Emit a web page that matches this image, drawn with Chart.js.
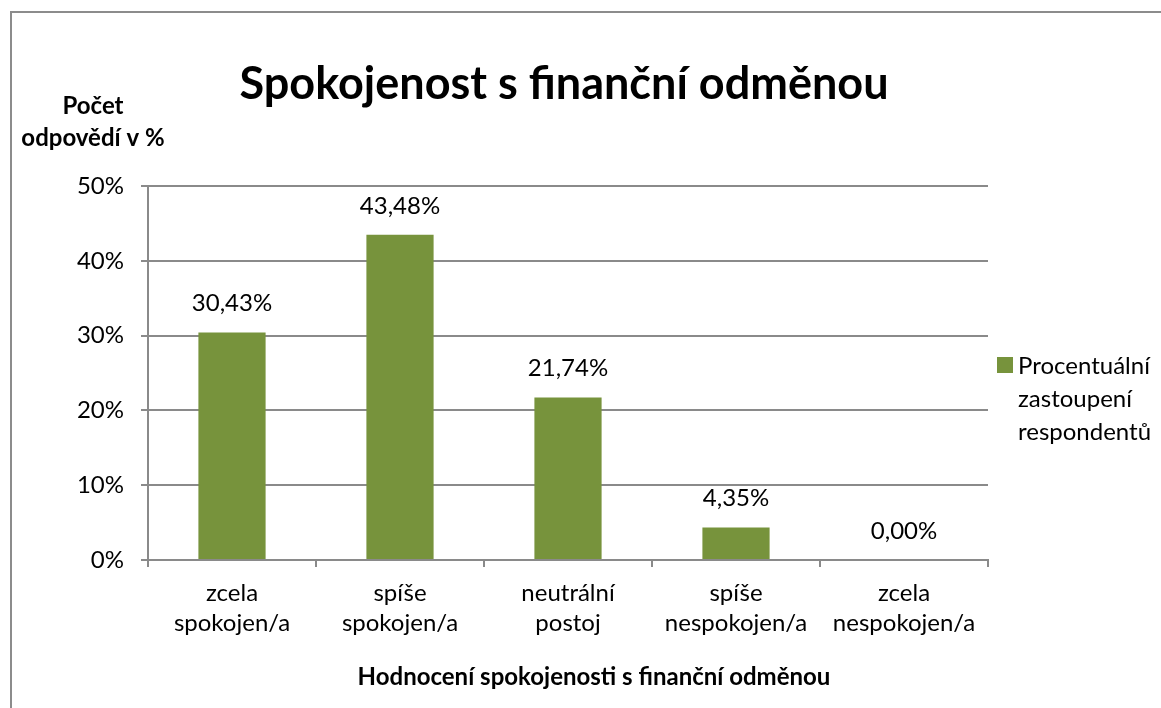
<!DOCTYPE html>
<html>
<head>
<meta charset="utf-8">
<script src="https://cdn.jsdelivr.net/npm/chart.js@4.4.1/dist/chart.umd.min.js"></script>
<style>
  html, body { margin: 0; padding: 0; background: #fff; overflow: hidden; }
  #wrap { position: relative; width: 1161px; height: 708px; }
  #frame { position: absolute; left: 10px; top: 11px; width: 1200px; height: 800px; border-left: 2px solid #8c8c8c; border-top: 2px solid #8c8c8c; box-sizing: border-box; pointer-events: none; }
  canvas { position: absolute; left: 0; top: 0; }
</style>
</head>
<body>
<div id="wrap">
  <canvas id="c" width="1161" height="708"></canvas>
  <div id="frame"></div>
</div>
<script>
const categories = [
  ['zcela', 'spokojen/a'],
  ['spíše', 'spokojen/a'],
  ['neutrální', 'postoj'],
  ['spíše', 'nespokojen/a'],
  ['zcela', 'nespokojen/a']
];
const values = [30.43, 43.48, 21.74, 4.35, 0.00];
const yTicks = [0, 10, 20, 30, 40, 50];
const seriesName = ['Procentuální', 'zastoupení', 'respondentů'];
const chartTitle = 'Spokojenost s finanční odměnou';
const yTitle = ['Počet', 'odpovědí v %'];
const xTitle = 'Hodnocení spokojenosti s finanční odměnou';

const FONT = 'Lato, "Open Sans", sans-serif';
const BAR = '#77933C';
const GRID = '#8a8a8a';

const textPlugin = {
  id: 'texts',
  afterDraw(chart) {
    const ctx = chart.ctx;
    ctx.save();
    ctx.fillStyle = '#000';
    ctx.textBaseline = 'middle';
    // title
    ctx.font = 'bold 45px ' + FONT;
    ctx.textAlign = 'center';
    ctx.fillText(chartTitle, 564, 84);
    // y title
    ctx.font = 'bold 24px ' + FONT;
    ctx.fillText(yTitle[0], 93, 106);
    ctx.fillText(yTitle[1], 93, 138);
    // x title
    ctx.fillText(xTitle, 594, 677);
    // data labels
    ctx.font = '24px ' + FONT;
    const meta = chart.getDatasetMeta(0);
    meta.data.forEach((bar, i) => {
      const v = values[i];
      const txt = v.toFixed(2).replace('.', ',') + '%';
      ctx.fillText(txt, bar.x, bar.y - 29);
    });
    // legend
    ctx.fillStyle = BAR;
    ctx.fillRect(997, 357, 16, 16);
    ctx.fillStyle = '#000';
    ctx.textAlign = 'left';
    ctx.font = '24px ' + FONT;
    seriesName.forEach((s, i) => ctx.fillText(s, 1018, 366 + i * 33));
    ctx.restore();
  }
};

new Chart(document.getElementById('c'), {
  type: 'bar',
  data: {
    labels: categories,
    datasets: [{
      label: seriesName.join(' '),
      data: values,
      backgroundColor: BAR,
      borderWidth: 0,
      categoryPercentage: 1.0,
      barPercentage: 0.4
    }]
  },
  options: {
    responsive: false,
    animation: false,
    devicePixelRatio: 1,
    layout: { padding: { left: 0, top: 186, right: 173, bottom: 0 } },
    plugins: { legend: { display: false }, title: { display: false }, tooltip: { enabled: false } },
    scales: {
      x: {
        offset: true,
        grid: { display: true, drawOnChartArea: false, drawTicks: true, tickLength: 7, color: GRID, lineWidth: 2, offset: true },
        border: { display: true, color: GRID, width: 2 },
        ticks: { color: '#000', font: { family: FONT, size: 24, lineHeight: 1.25 }, padding: 11, maxRotation: 0, autoSkip: false },
        afterFit(s) { s.height = 148; }
      },
      y: {
        min: 0, max: 50,
        afterBuildTicks(s) { s.ticks = yTicks.map(v => ({ value: v })); },
        grid: { color: GRID, lineWidth: 2, tickLength: 7 },
        border: { display: true, color: GRID, width: 2 },
        ticks: { color: '#000', font: { family: FONT, size: 24 }, padding: 17, callback: v => v + '%' },
        afterFit(s) { s.width = 148; }
      }
    }
  },
  plugins: [textPlugin]
});
</script>
</body>
</html>
